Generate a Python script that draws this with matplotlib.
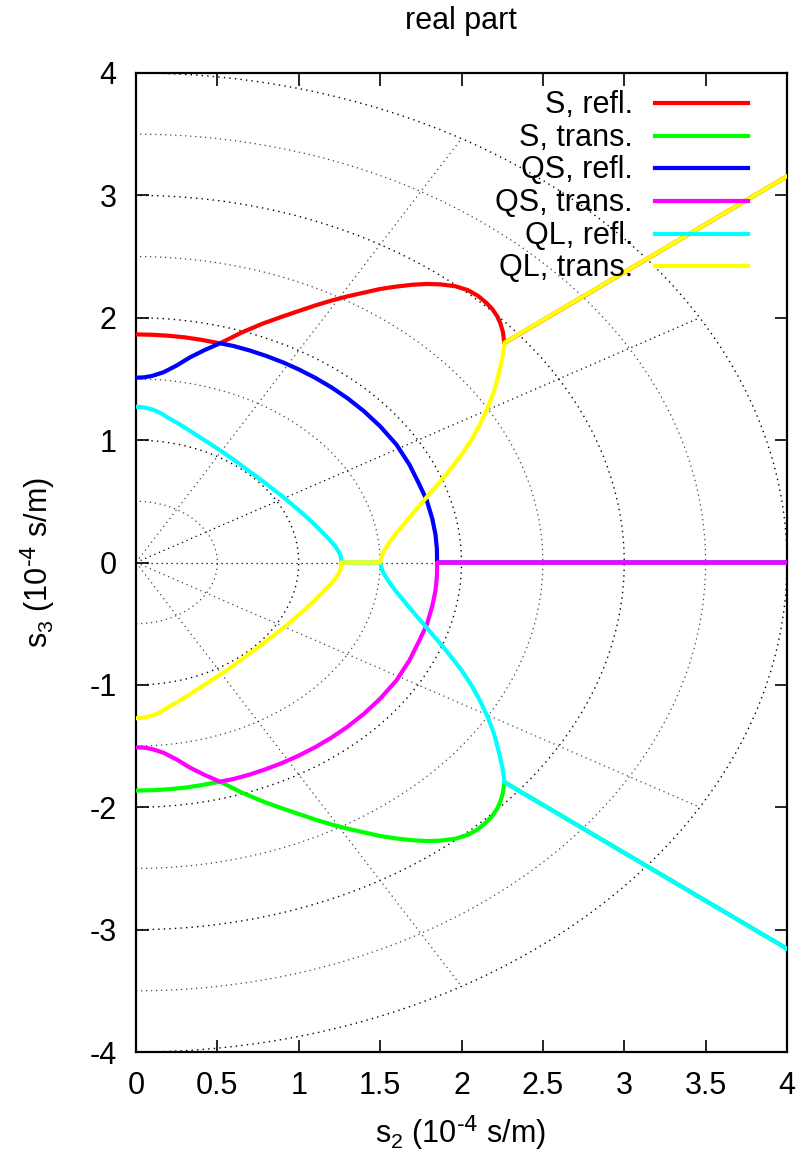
import numpy as np
import matplotlib
matplotlib.use('Agg')
import matplotlib.pyplot as plt

plt.rcParams['font.family'] = ['Liberation Sans', 'DejaVu Sans']
plt.rcParams['axes.unicode_minus'] = False
plt.rcParams['mathtext.default'] = 'regular'

# slowness branches, upper half (s2, s3) in 1e-4 s/m; lower half is the mirror image
s_refl_s2 = [0.0, 0.1, 0.2, 0.3, 0.4, 0.516, 0.65, 0.782, 0.9, 1.0, 1.1, 1.2, 1.3,
             1.4, 1.5, 1.6, 1.7, 1.786, 1.87, 1.964, 2.04, 2.1, 2.15, 2.19, 2.22,
             2.24, 2.255, 2.263, 4.0]
s_refl_s3 = [1.864, 1.861, 1.853, 1.84, 1.82, 1.791, 1.88, 1.954, 2.01, 2.055, 2.10,
             2.14, 2.175, 2.205, 2.235, 2.255, 2.27, 2.276, 2.273, 2.257, 2.225, 2.18,
             2.125, 2.07, 2.01, 1.95, 1.88, 1.794, 3.156]

qs_refl_s2 = [0.0, 0.05, 0.1, 0.17, 0.25, 0.33, 0.42, 0.516, 0.6, 0.7, 0.8, 0.9,
              1.0, 1.1, 1.2, 1.3, 1.4, 1.5, 1.6, 1.68, 1.74, 1.786, 1.82, 1.84,
              1.849, 1.85, 4.0]
qs_refl_s3 = [1.51, 1.513, 1.525, 1.555, 1.61, 1.675, 1.735, 1.791, 1.769, 1.732,
              1.688, 1.637, 1.578, 1.51, 1.432, 1.342, 1.237, 1.113, 0.964, 0.80,
              0.64, 0.51, 0.36, 0.23, 0.11, 0.0, 0.0]

ql_refl_s2 = [0.0, 0.05, 0.102, 0.15, 0.2, 0.255, 0.35, 0.51, 0.6, 0.765, 0.9, 1.02,
              1.09, 1.148, 1.19, 1.224, 1.245, 1.258, 1.263, 1.5, 1.505, 1.518, 1.56,
              1.6, 1.7, 1.8, 1.9, 2.0, 2.06, 2.11, 2.16, 2.2, 2.23, 2.252, 2.265, 4.0]
ql_refl_s3 = [1.273, 1.267, 1.25, 1.222, 1.18, 1.14, 1.06, 0.923, 0.84, 0.678, 0.54,
              0.405, 0.32, 0.242, 0.185, 0.133, 0.09, 0.051, 0.0, 0.0, -0.03, -0.082,
              -0.17, -0.24, -0.40, -0.555, -0.71, -0.88, -1.0, -1.12, -1.26, -1.40,
              -1.55, -1.68, -1.797, -3.156]

curves = [
    ('S, refl.', s_refl_s2, s_refl_s3, '#ff0000'),
    ('S, trans.', s_refl_s2, [-v for v in s_refl_s3], '#00ff00'),
    ('QS, refl.', qs_refl_s2, qs_refl_s3, '#0000ff'),
    ('QS, trans.', qs_refl_s2, [-v for v in qs_refl_s3], '#ff00ff'),
    ('QL, refl.', ql_refl_s2, ql_refl_s3, '#00ffff'),
    ('QL, trans.', ql_refl_s2, [-v for v in ql_refl_s3], '#ffff00'),
]

grid_radii = [0.5, 1.0, 1.5, 2.0, 2.5, 3.0, 3.5, 4.0]
grid_angles = [-60, -30, 0, 30, 60]

fig = plt.figure(figsize=(8.07, 11.57), dpi=100)
ax = fig.add_axes([136/807, 105/1157, 651/807, 979/1157])

# polar grid
th = np.linspace(-np.pi/2, np.pi/2, 400)
for r in grid_radii:
    major = float(r).is_integer()
    ax.plot(r*np.cos(th), r*np.sin(th), color='black' if major else '#444444',
            lw=1.0 if major else 0.9, ls=(0, (1, 3)), zorder=1)
for a in grid_angles:
    t = np.radians(a)
    ax.plot([0, 4*np.cos(t)], [0, 4*np.sin(t)], color='black' if a in (0, 30) else '#444444',
            lw=0.9, ls=(0, (1, 3)), zorder=1)

for label, xs, ys, c in curves:
    ax.plot(xs, ys, color=c, lw=3.0, zorder=3, solid_joinstyle='round')

# key, text right-aligned to the left of the sample line
for i, (label, xs, ys, c) in enumerate(curves):
    yk = (1052 - (103.3 + 32.55*i)) / 979
    ax.text(0.7634, yk - 10/979, label, transform=ax.transAxes, ha='right',
            va='baseline', fontsize=22, zorder=4)
    ax.plot([0.797, 0.940], [yk, yk], transform=ax.transAxes, color=c, lw=3.0,
            zorder=4, clip_on=False)

ax.set_xlim(0, 4)
ax.set_ylim(-4, 4)
ax.set_xticks(np.arange(0, 4.01, 0.5))
ax.set_xticklabels(['0', '0.5', '1', '1.5', '2', '2.5', '3', '3.5', '4'])
ax.set_yticks(np.arange(-4, 4.01, 1))
ax.tick_params(direction='in', top=True, right=True, length=9, width=1.2,
               labelsize=22, pad=14)
for sp in ax.spines.values():
    sp.set_linewidth(1.6)

fig.text(461/807, 1 - 29/1157, 'real part', ha='center', va='baseline', fontsize=22)
fig.text(461/807, 1 - 1143/1157, r's$_2$ (10$^{\text{-4}}$ s/m)', ha='center',
         va='baseline', fontsize=22)
fig.text(38/807, 1 - 562/1157, r's$_3$ (10$^{\text{-4}}$ s/m)', ha='center',
         va='center', rotation=90, fontsize=22)

fig.savefig('out.png', dpi=100)
